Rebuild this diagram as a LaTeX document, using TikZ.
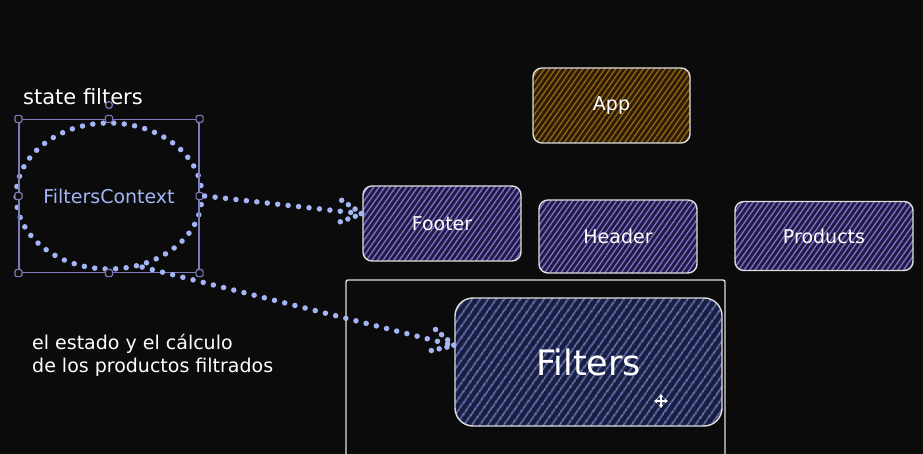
\documentclass[tikz,border=0pt]{standalone}
\usepackage{fontspec}
\usetikzlibrary{shapes.geometric,patterns.meta,decorations.markings,arrows.meta}
\newfontfamily\hand{DejaVu Sans}
\definecolor{MyBg}{RGB}{11, 11, 11}
\definecolor{MyDot}{RGB}{163, 181, 247}
\definecolor{MySel}{RGB}{124, 122, 184}
\definecolor{MyEdge}{RGB}{222, 222, 222}
\definecolor{AppBase}{RGB}{44, 30, 6}
\definecolor{AppLine}{RGB}{150, 102, 20}
\definecolor{CompBase}{RGB}{34, 28, 66}
\definecolor{CompLine}{RGB}{128, 112, 208}
\definecolor{FiltBase}{RGB}{24, 30, 66}
\definecolor{FiltLine}{RGB}{116, 132, 204}
\newcommand{\lw}{1.4pt}

\begin{document}
\begin{tikzpicture}[x=1pt, y=-1pt,
  dotline/.style={draw=MyDot, line width=5.5pt, line cap=round, dash pattern=on 0pt off 10.5pt},
  dotarrow/.style={dotline, postaction={decorate, decoration={markings,
      mark=at position 1 with {\draw[dotline, dash pattern=on 0pt off 8pt] (-22pt,11pt) -- (0,0) -- (-22pt,-11pt);}}}},
  comp/.style 2 args={draw=MyEdge, line width=\lw, rounded corners=9pt, text=white,
      font=\hand\fontsize{19}{22}\selectfont, preaction={fill=#1},
      pattern={Lines[angle=55, distance=4.5pt, line width=1.3pt]}, pattern color=#2},
  label/.style={text=white, font=\hand\fontsize{19}{23}\selectfont, inner sep=0pt},
  handle/.style={draw=MySel, fill=MyBg, line width=1.2pt, rounded corners=1.5pt}]
  \fill[MyBg] (0,0) rectangle (923,454);
  \useasboundingbox (0,0) rectangle (923,454);

  \node[ellipse, dotline, minimum width=174pt, minimum height=146pt, inner sep=0pt,
        text=MyDot, font=\hand\fontsize{19}{22}\selectfont] (ctx) at (109,196) {FiltersContext};
  \node[draw=MySel, line width=1.2pt, minimum width=180pt, minimum height=153pt, inner sep=0pt] (sel) at (109,196) {};
  \foreach \a in {north west, north, north east, east, south east, south, south west, west}
    \draw[handle] (sel.\a) ++(-3.5pt,-3.5pt) rectangle ++(7pt,7pt);
  \node[label, font=\hand\fontsize{21}{24}\selectfont] (statelbl) at (83,97) {state filters};
  \node[handle, circle, minimum size=7pt, inner sep=0pt] (rot) at (109,105) {};

  \node[comp={AppBase}{AppLine}, minimum width=157pt, minimum height=75pt] (app) at (611.5,105.5) {App};
  \node[comp={CompBase}{CompLine}, minimum width=158pt, minimum height=75pt] (footer) at (442,223.5) {Footer};
  \node[comp={CompBase}{CompLine}, minimum width=158pt, minimum height=73pt] (header) at (618,236.5) {Header};
  \node[comp={CompBase}{CompLine}, minimum width=178pt, minimum height=69pt] (products) at (824,236) {Products};

  \node[draw=MyEdge, line width=\lw, rounded corners=2pt, minimum width=379pt, minimum height=200pt] (panel) at (535.5,380) {};
  \node[draw=MyEdge, line width=\lw, rounded corners=18pt, text=white, font=\hand\fontsize{35}{40}\selectfont,
        preaction={fill=FiltBase}, pattern={Lines[angle=55, distance=6.5pt, line width=1.6pt]}, pattern color=FiltLine,
        minimum width=267pt, minimum height=128pt] (filters) at (588.5,362) {Filters};

  \node[label, align=left, anchor=west] (note) at (32,355) {el estado y el cálculo\\de los productos filtrados};

  \draw[dotarrow] (ctx.east) -- (footer.173);
  \draw[dotarrow] (ctx.-65) -- (filters.173);

  \draw[white, line width=1.3pt, <->, >={Stealth[length=3.5pt, width=5pt]}] (661,394) -- (661,408);
  \draw[white, line width=1.3pt, <->, >={Stealth[length=3.5pt, width=5pt]}] (654,401) -- (668,401);
\end{tikzpicture}
\end{document}
